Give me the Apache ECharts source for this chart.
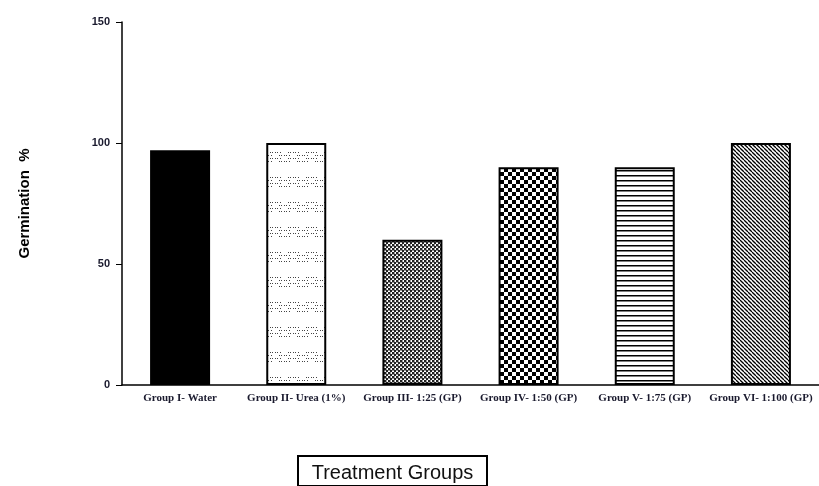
<!DOCTYPE html>
<html><head><meta charset="utf-8">
<script src="https://cdn.jsdelivr.net/npm/echarts@6/dist/echarts.min.js"></script>
<style>html,body{margin:0;padding:0;background:#fff}#c{width:819px;height:486px}
#xt{position:absolute;left:297px;top:455px;width:187px;height:28px;border:2px solid #000;font:20px "Liberation Sans",Arial,sans-serif;text-align:center;line-height:30px;color:#111;box-sizing:content-box}</style>
</head><body><div id="c"></div><div id="xt">Treatment Groups</div>
<script>
const categories = ["Group I- Water","Group II- Urea (1%)","Group III- 1:25 (GP)","Group IV- 1:50 (GP)","Group V- 1:75 (GP)","Group VI- 1:100 (GP)"];
const germination = [97, 100, 60, 90, 90, 100];
const yTicks = [0, 50, 100, 150];

function tile(w,h,draw){const c=document.createElement('canvas');c.width=w;c.height=h;const g=c.getContext('2d');g.fillStyle='#fff';g.fillRect(0,0,w,h);draw(g);return {image:c,repeat:'repeat'};}
const patterns = [
  '#000',
  tile(18,25,g=>{g.fillStyle='#444';for(let r=0;r<4;r++){const y=r*3+2;const off=(r%2)*9;for(let k=0;k<5;k++){const x=(off+k*2.4)%18;g.fillRect(Math.round(x),y,1,1);}}}),
  tile(4,4,g=>{g.fillStyle='#222';g.fillRect(0,0,2,2);g.fillRect(2,2,2,2);g.fillStyle='#999';g.fillRect(2,0,1,2);g.fillRect(0,2,2,1);}),
  tile(8,8,g=>{g.fillStyle='#000';g.fillRect(0,0,4,4);g.fillRect(4,4,4,4);}),
  tile(4,5,g=>{g.fillStyle='#000';g.fillRect(0,0,4,1.5);}),
  tile(4,4,g=>{g.fillStyle='#000';for(let i=-4;i<8;i+=4){g.beginPath();g.moveTo(i,0);g.lineTo(i+4,4);g.lineWidth=1.3;g.strokeStyle='#000';g.stroke();}})
];

const chart = echarts.init(document.getElementById('c'),null,{renderer:'canvas'});
chart.setOption({
  animation:false,
  grid:{left:122,top:22,width:702,height:363,containLabel:false},
  xAxis:{type:'category',data:categories,
    axisLine:{lineStyle:{color:'#000',width:1.5}},
    axisTick:{alignWithLabel:true,length:5,lineStyle:{color:'#000'}},
    axisLabel:{interval:0,margin:8,color:'#1a1a2e',fontFamily:'Liberation Serif',fontWeight:'bold',fontSize:11}},
  yAxis:{type:'value',min:0,max:150,interval:50,
    name:'Germination  %',nameLocation:'middle',nameGap:90,nameRotate:90,
    nameTextStyle:{fontFamily:'Liberation Sans',fontWeight:'bold',fontSize:15,color:'#000'},
    splitLine:{show:false},
    axisLine:{show:true,lineStyle:{color:'#000',width:1.5}},
    axisTick:{show:true,length:6,lineStyle:{color:'#000'}},
    axisLabel:{margin:12,color:'#1a1a2e',fontFamily:'Liberation Sans',fontWeight:'bold',fontSize:11,
      formatter:v=>yTicks.includes(v)?String(v):''}},
  series:[{type:'bar',barWidth:60,
    data:germination.map((v,i)=>({value:v,itemStyle:{color:patterns[i]}})),
    itemStyle:{borderColor:'#000',borderWidth:2}}]
});
</script></body></html>
